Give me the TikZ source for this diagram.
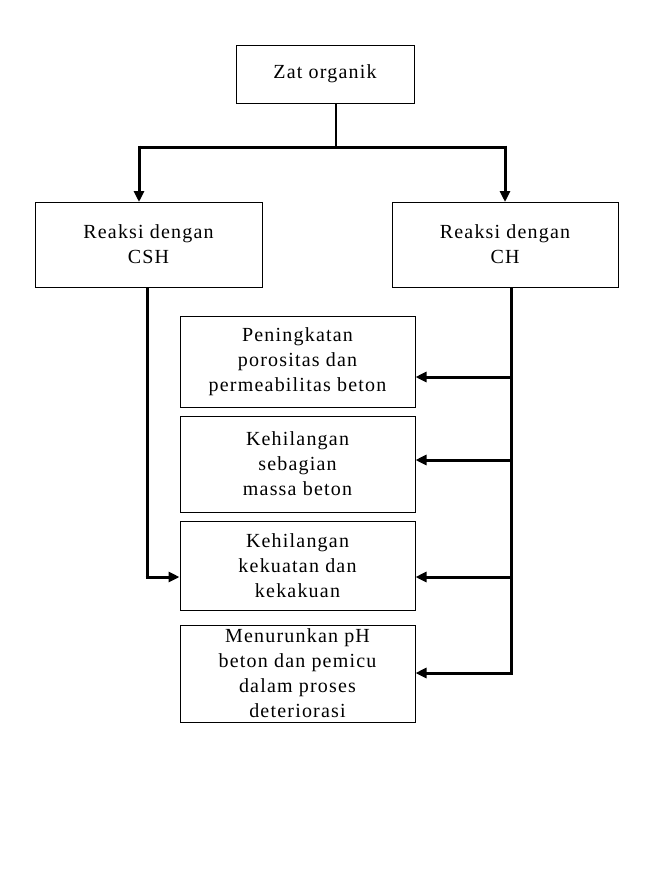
\documentclass[tikz,border=0pt]{standalone}
\usepackage{fontspec}
\setmainfont{Liberation Serif}[LetterSpace=6]
\usetikzlibrary{arrows.meta}
\begin{document}
\begin{tikzpicture}[x=1pt,y=-1pt,
  box/.style={draw,line width=1pt,align=center,font=\fontsize{20}{25}\selectfont,inner sep=0pt},
  thin/.style={line width=1.2pt},
  thick line/.style={line width=3pt},
  arr/.style={line width=3pt,-{Triangle[length=11pt,width=10pt]}}]
\useasboundingbox (0,0) rectangle (657,892);
\node[box,minimum width=178,minimum height=58] (z) at (325,74) {Zat organik};
\node[box,minimum width=227,minimum height=85] (l) at (148.5,244.5) {Reaksi dengan\\CSH};
\node[box,minimum width=226,minimum height=85] (r) at (505,244.5) {Reaksi dengan\\CH};
\node[box,minimum width=235,minimum height=91] (b1) at (297.5,361.5) {Peningkatan\\porositas dan\\permeabilitas beton};
\node[box,minimum width=235,minimum height=96] (b2) at (297.5,464) {Kehilangan\\sebagian\\massa beton};
\node[box,minimum width=235,minimum height=89] (b3) at (297.5,565.5) {Kehilangan\\kekuatan dan\\kekakuan};
\node[box,minimum width=235,minimum height=97] (b4) at (297.5,673.5) {Menurunkan pH\\beton dan pemicu\\dalam  proses\\deteriorasi};
\coordinate (j) at (336,147);
\draw[thin] (336,103) -- (j);
\draw[thick line] (139,147) -- (505,147);
\draw[arr] (139,145.5) -- (139,202);
\draw[arr] (505,145.5) -- (505,202);
\draw[thick line] (147,287) -- (147,577);
\draw[arr] (145.5,577) -- (b3.west|-0,577);
\draw[thick line] (511,287) -- (511,674.5);
\draw[arr] (512.5,377) -- (b1.east|-0,377);
\draw[arr] (512.5,460) -- (b2.east|-0,460);
\draw[arr] (512.5,577) -- (b3.east|-0,577);
\draw[arr] (512.5,673) -- (b4.east|-0,673);
\end{tikzpicture}
\end{document}
